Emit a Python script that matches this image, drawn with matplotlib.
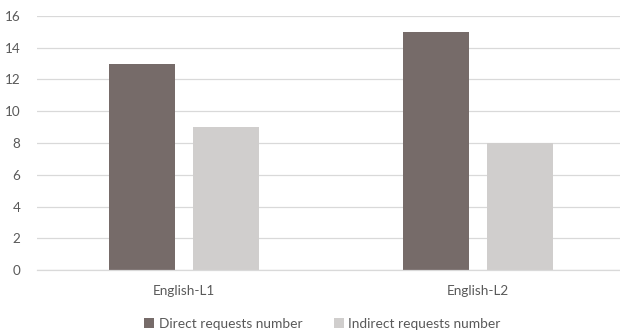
import matplotlib
matplotlib.use("Agg")
import matplotlib.pyplot as plt
import numpy as np

categories = ["English-L1", "English-L2"]
direct = [13, 15]
indirect = [9, 8]
series_names = ["Direct requests number", "Indirect requests number"]
yticks = [0, 2, 4, 6, 8, 10, 12, 14, 16]

plt.rcParams["font.family"] = ["Lato", "DejaVu Sans"]
text_color = "#595959"

fig = plt.figure(figsize=(6.2, 3.31), dpi=100)
ax = fig.add_axes([0.0597, 0.184, 0.948, 0.768])

x = np.arange(len(categories))
w = 0.226
off = 0.143
ax.bar(x - off, direct, width=w, color="#766b69", label=series_names[0], zorder=2)
ax.bar(x + off, indirect, width=w, color="#d0cecd", label=series_names[1], zorder=2)

ax.set_xlim(-0.5, 1.5)
ax.set_ylim(0, 16)
ax.set_yticks(yticks)
ax.set_xticks(x)
ax.set_xticklabels(categories)
ax.yaxis.grid(True, color="#d9d9d9", linewidth=0.9, zorder=0)
ax.set_axisbelow(True)
for s in ["top", "right", "left"]:
    ax.spines[s].set_visible(False)
ax.spines["bottom"].set_color("#d9d9d9")
ax.spines["bottom"].set_linewidth(0.9)
ax.tick_params(axis="both", length=0, colors=text_color, labelsize=9.7)
ax.tick_params(axis="x", pad=11)
ax.tick_params(axis="y", pad=12)

fig.legend(loc="lower center", bbox_to_anchor=(0.52, -0.035), ncol=2, frameon=False,
           fontsize=9.9, labelcolor=text_color, handlelength=0.75, handleheight=0.75,
           handletextpad=0.3, columnspacing=2.3)

fig.savefig("out.png", dpi=100)
